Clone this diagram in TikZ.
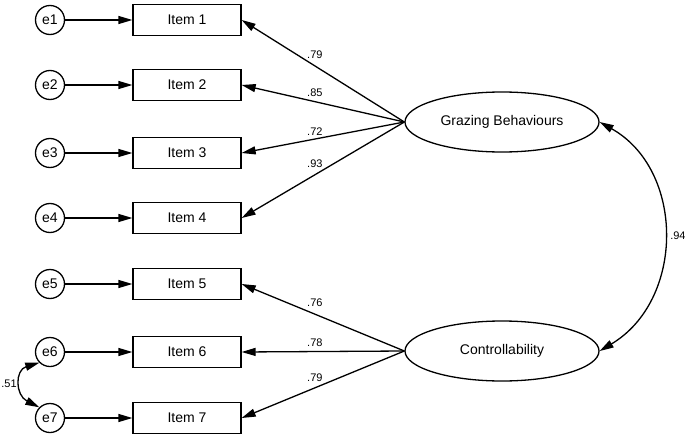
\documentclass[tikz,border=0pt]{standalone}
\usepackage{fontspec}
\setmainfont{Liberation Sans}
\usetikzlibrary{arrows.meta,shapes.geometric}
\begin{document}
\begin{tikzpicture}[x=1pt,y=-1pt,
  err/.style={circle,draw,line width=1.3pt,minimum size=29pt,inner sep=0pt,font=\fontsize{14}{16}\selectfont},
  item/.style={rectangle,draw,line width=1.3pt,minimum width=108pt,minimum height=31pt,font=\fontsize{14}{16}\selectfont},
  lat/.style={ellipse,draw,line width=1.3pt,minimum width=194pt,minimum height=60pt,font=\fontsize{14}{16}\selectfont},
  arr/.style={line width=1.3pt,-{Triangle[length=14pt,width=8pt]}},
  darr/.style={line width=1.3pt,{Triangle[length=14pt,width=8pt]}-{Triangle[length=14pt,width=8pt]}},
  lab/.style={font=\fontsize{11}{13}\selectfont,inner sep=1pt}]
\useasboundingbox (0,0) rectangle (685,436);
\foreach \i/\y in {1/20,2/85,3/153,4/218,5/284,6/352,7/418}{
  \node[err] (e\i) at (50,\y) {e\i};
  \node[item] (i\i) at (187,\y) {Item \i};
  \draw[arr] (e\i) -- (i\i);
}
\node[lat] (g) at (502,122) {Grazing Behaviours};
\node[lat] (c) at (502,351) {Controllability};
\draw[arr] (g.west) -- (i1.east) node[lab,pos=0.55,above=6pt] {.79};
\draw[arr] (g.west) -- (i2.east) node[lab,pos=0.55,above=3pt] {.85};
\draw[arr] (g.west) -- (i3.east) node[lab,pos=0.55,above=2pt] {.72};
\draw[arr] (g.west) -- (i4.east) node[lab,pos=0.55,above=6pt] {.93};
\draw[arr] (c.west) -- (i5.east) node[lab,pos=0.55,above=6pt] {.76};
\draw[arr] (c.west) -- (i6.east) node[lab,pos=0.55,above=3pt] {.78};
\draw[arr] (c.west) -- (i7.east) node[lab,pos=0.55,above=5pt] {.79};
\draw[darr] (g.east) .. controls (685,170) and (685,300) .. (c.east) node[lab,pos=0.5,right=5pt] {.94};
\draw[darr] (e6.south west) .. controls (15,370) and (15,395) .. (e7.north west);
\node[lab] at (9,384) {.51};
\end{tikzpicture}
\end{document}
